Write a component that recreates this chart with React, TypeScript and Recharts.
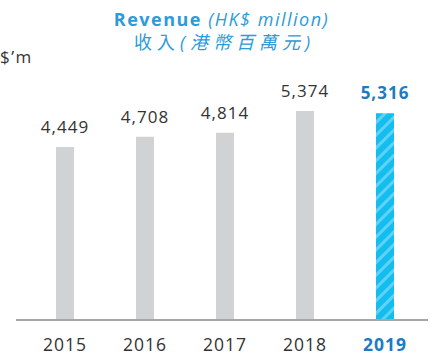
import { BarChart, Bar, XAxis, YAxis, Cell, LabelList } from 'recharts';

const YEARS = ['2015', '2016', '2017', '2018', '2019'];
const REVENUE = [4449, 4708, 4814, 5374, 5316];
const HIGHLIGHT_YEAR = '2019';

const data = YEARS.map((year, i) => ({ year, revenue: REVENUE[i] }));

const GREY = '#d1d2d4';
const BLUE_TEXT = '#1b7cc4';
const TITLE_BLUE = '#2b9bd9';
const FONT = '"Open Sans", "Noto Sans CJK TC", sans-serif';

function YearTick(props: any) {
  const { x, y, payload } = props;
  const hi = payload.value === HIGHLIGHT_YEAR;
  return (
    <text
      x={x}
      y={y + 23}
      textAnchor="middle"
      fontFamily={FONT}
      fontSize={17.5}
      letterSpacing={1}
      fontWeight={hi ? 700 : 400}
      fill={hi ? BLUE_TEXT : '#333'}
    >
      {payload.value}
    </text>
  );
}

function ValueLabel(props: any) {
  const { x, y, width, value, index } = props;
  const hi = YEARS[index] === HIGHLIGHT_YEAR;
  return (
    <text
      x={x + width / 2}
      y={y - 14}
      textAnchor="middle"
      fontFamily={FONT}
      fontSize={17}
      letterSpacing={1}
      fontWeight={hi ? 700 : 400}
      fill={hi ? BLUE_TEXT : '#333'}
    >
      {value.toLocaleString('en-US')}
    </text>
  );
}

export default function App() {
  return (
    <div style={{ position: 'absolute', left: 0, top: 0, width: 443, height: 361, background: '#fff' }}>
      <div
        style={{
          position: 'absolute',
          left: 0,
          top: 7,
          width: 443,
          textAlign: 'center',
          fontFamily: FONT,
          color: TITLE_BLUE,
        }}
      >
        <div style={{ fontSize: 18, lineHeight: '24px', letterSpacing: 1.5 }}>
          <b>Revenue</b> <i>(HK$ million)</i>
        </div>
        <div style={{ fontSize: 18, lineHeight: '22px', letterSpacing: 5, marginLeft: 6 }}>
          收入<i>(港幣百萬元)</i>
        </div>
      </div>
      <div
        style={{
          position: 'absolute',
          left: 0,
          top: 45,
          fontFamily: FONT,
          fontSize: 17,
          letterSpacing: 1.5,
          color: '#333',
        }}
      >
        $’m
      </div>
      <BarChart
        width={443}
        height={361}
        data={data}
        margin={{ top: 72, right: 15, left: 16, bottom: 11 }}
      >
        <defs>
          <pattern id="stripes" patternUnits="userSpaceOnUse" width="9" height="9" patternTransform="rotate(45)">
            <rect width="9" height="9" fill="#14bdf0" />
            <rect width="3" height="9" fill="#5fd3f5" />
          </pattern>
        </defs>
        <YAxis
          width={0}
          domain={[0, 6375]}
          tick={false}
          axisLine={{ stroke: '#555', strokeWidth: 1.5 }}
          tickLine={false}
        />
        <XAxis
          dataKey="year"
          height={30}
          padding={{ left: 9, right: 3 }}
          axisLine={{ stroke: '#a6a6a6', strokeWidth: 2 }}
          tickLine={false}
          tick={<YearTick />}
          interval={0}
        />
        <Bar dataKey="revenue" barSize={18} isAnimationActive={false}>
          {data.map((d) => (
            <Cell key={d.year} fill={d.year === HIGHLIGHT_YEAR ? 'url(#stripes)' : GREY} />
          ))}
          <LabelList dataKey="revenue" content={<ValueLabel />} />
        </Bar>
      </BarChart>
    </div>
  );
}
